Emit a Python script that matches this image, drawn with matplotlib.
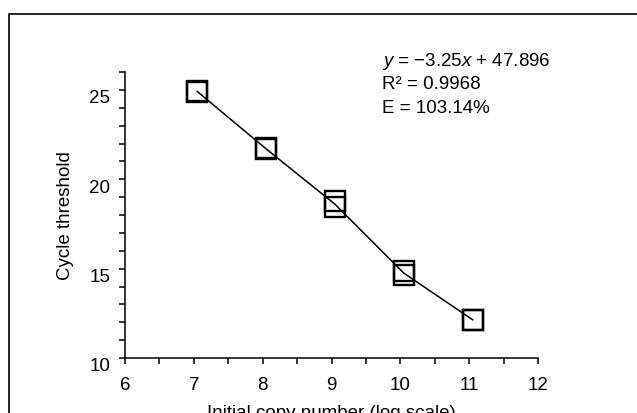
import numpy as np
import pandas as pd
import matplotlib
matplotlib.use("Agg")
import matplotlib.pyplot as plt
import matplotlib.patches as patches
from matplotlib.transforms import ScaledTranslation

plt.rcParams['font.family'] = ['Liberation Sans', 'DejaVu Sans']
plt.rcParams['mathtext.fontset'] = 'custom'
plt.rcParams['mathtext.rm'] = 'Liberation Sans'
plt.rcParams['mathtext.it'] = 'Liberation Sans:italic'

# replicate standards: log10 copy number vs Ct
log_copies = [7.05, 7.05, 8.05, 8.05, 9.05, 9.05, 10.05, 10.05, 11.05, 11.05]
ct = [24.95, 24.87, 21.73, 21.67, 18.76, 18.45, 14.86, 14.64, 12.15, 12.13]

x_ticks = [6, 7, 8, 9, 10, 11, 12]
y_ticks = [10, 15, 20, 25]
eq_lines = ["$y$ = \u22123.25$x$ + 47.896", "R\u00b2 = 0.9968", "E = 103.14%"]

df = pd.DataFrame({"x": log_copies, "ct": ct})
means = df.groupby("x", as_index=False)["ct"].mean()

W, H = 637, 414
fig = plt.figure(figsize=(W / 100, H / 100), dpi=100)
ax = fig.add_axes([125 / W, 1 - 359 / H, 413 / W, 286 / H])

# outer frame (runs past right/bottom edges like the original crop)
frame = patches.Rectangle((9 / W, -0.2), 1.2, 1.2 - 15 / H, transform=fig.transFigure,
                          fill=False, edgecolor='black', linewidth=1.2, clip_on=False)
fig.add_artist(frame)

ax.plot(means["x"], means["ct"], color='black', linewidth=1.1, zorder=2)
ax.plot(df["x"], df["ct"], linestyle='none', marker='s', markersize=14,
        markerfacecolor='none', markeredgecolor='black', markeredgewidth=1.7, zorder=3)

ax.set_xlim(6, 12)
ax.set_ylim(10, 26)
ax.set_xticks(x_ticks)
ax.set_yticks(y_ticks)
ax.set_xticks(np.arange(6.5, 12, 1), minor=True)
ax.set_yticks([v for v in range(10, 27) if v % 5 != 0], minor=True)

for s in ['top', 'right']:
    ax.spines[s].set_visible(False)
for s in ['left', 'bottom']:
    ax.spines[s].set_linewidth(1.1)

ax.tick_params(axis='both', which='both', direction='out', width=1.1, labelsize=13.5)
ax.tick_params(axis='y', which='both', length=4.5, pad=6)
ax.tick_params(axis='x', which='both', length=4, pad=9)

# y labels sit a little below their ticks in the original
off = ScaledTranslation(0, -6 / 100, fig.dpi_scale_trans)
for lab in ax.get_yticklabels():
    lab.set_transform(lab.get_transform() + off)

fig.text(65 / W, 1 - 216 / H, "Cycle threshold", rotation=90, ha='center', va='center', fontsize=13.5)
fig.text(331 / W, 1 - 418 / H, "Initial copy number (log scale)", ha='center', va='baseline', fontsize=13.5)

for i, line in enumerate(eq_lines):
    fig.text(382 / W, 1 - (66 + 23.5 * i) / H, line, ha='left', va='baseline', fontsize=13.5)

fig.savefig("out.png", dpi=100)
